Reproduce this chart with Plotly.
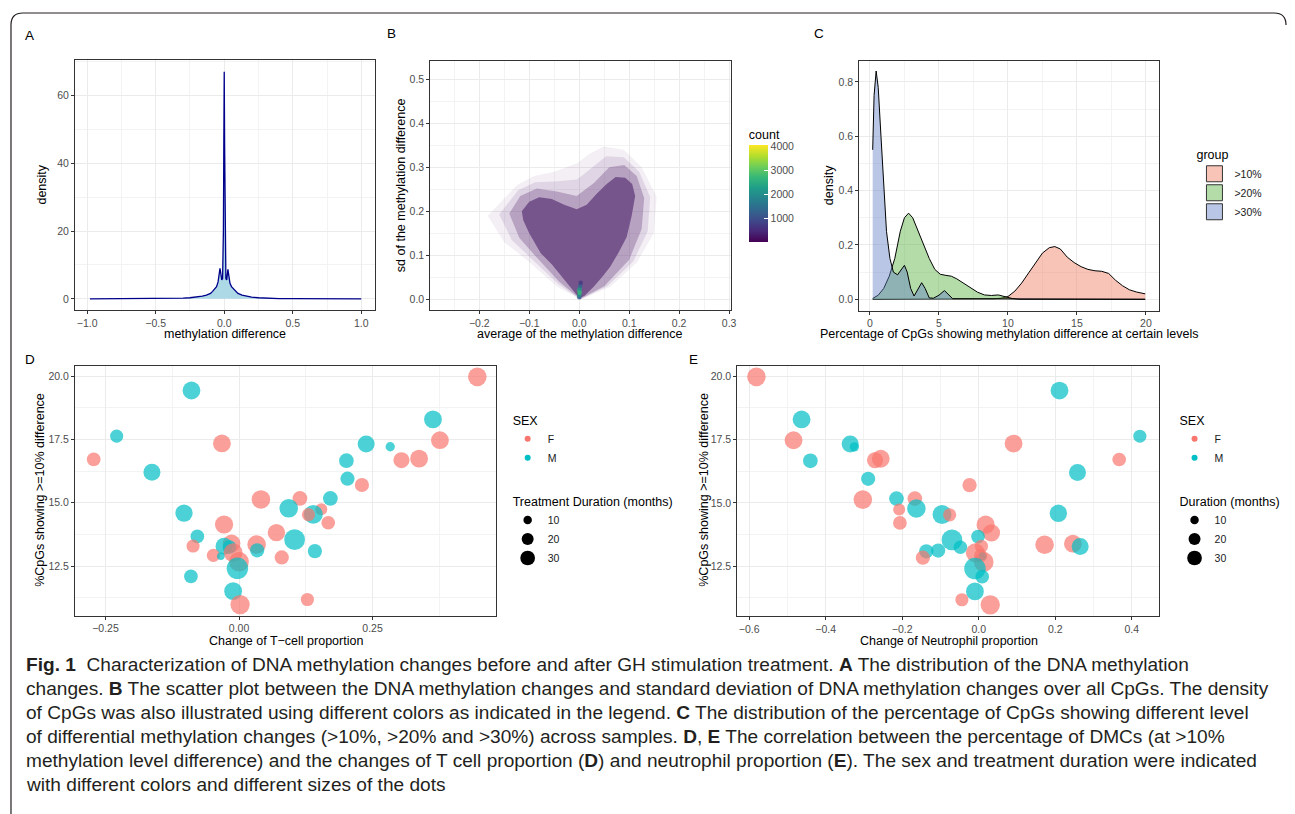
import plotly.graph_objects as go

# the page places the figure 8px from the top-left corner of the window
OFF = 8
W, H = 1295 - OFF, 814 - OFF

# ---------------- Panel A: density of methylation difference ----------------
a_x = [-0.98, -0.7, -0.5, -0.4, -0.3, -0.25, -0.2, -0.16, -0.13, -0.1, -0.085, -0.07,
       -0.056, -0.045, -0.036, -0.031, -0.025, -0.018, -0.012, -0.006, -0.003, 0.0,
       0.003, 0.006, 0.012, 0.018, 0.022, 0.027, 0.033, 0.042, 0.053, 0.07, 0.085,
       0.1, 0.13, 0.16, 0.2, 0.25, 0.3, 0.4, 0.5, 0.7, 1.0]
a_y = [0.0, 0.01, 0.03, 0.06, 0.2, 0.32, 0.5, 0.8, 1.1, 1.6, 2.2, 2.8,
       3.6, 5.0, 7.5, 9.0, 7.5, 5.6, 6.0, 20.0, 45.0, 67.0,
       45.0, 20.0, 6.0, 5.6, 7.5, 8.7, 7.0, 4.6, 3.6, 2.8, 2.2,
       1.6, 1.1, 0.8, 0.5, 0.32, 0.2, 0.06, 0.03, 0.01, 0.0]

# ---------------- Panel B: mean vs sd of methylation difference ----------------
halo_x = [0.003, -0.044, -0.103, -0.15, -0.183, -0.124, -0.09, -0.05, -0.003, 0.02,
          0.049, 0.089, 0.125, 0.155, 0.149, 0.115, 0.062, 0.003]
halo_y = [0.0, 0.029, 0.088, 0.13, 0.19, 0.26, 0.28, 0.29, 0.31, 0.33,
          0.347, 0.34, 0.3, 0.233, 0.15, 0.083, 0.029, 0.0]
halo2_x = [0.002, -0.042, -0.095, -0.135, -0.16, -0.122, -0.088, -0.048, -0.004, 0.025,
           0.054, 0.089, 0.12, 0.142, 0.137, 0.108, 0.056, 0.002]
halo2_y = [0.0, 0.035, 0.092, 0.135, 0.193, 0.248, 0.266, 0.268, 0.272, 0.298,
           0.325, 0.323, 0.29, 0.232, 0.155, 0.086, 0.03, 0.0]
mid_x = [0.002, -0.04, -0.085, -0.12, -0.14, -0.118, -0.085, -0.045, -0.005, 0.03,
         0.06, 0.09, 0.115, 0.13, 0.125, 0.1, 0.05, 0.002]
mid_y = [0.001, 0.04, 0.095, 0.14, 0.195, 0.235, 0.252, 0.245, 0.235, 0.265,
         0.3, 0.305, 0.28, 0.23, 0.16, 0.09, 0.03, 0.001]
core_x = [0.0, -0.03, -0.055, -0.077, -0.1, -0.112, -0.115, -0.1, -0.08, -0.055, -0.03,
          -0.005, 0.015, 0.035, 0.055, 0.073, 0.092, 0.106, 0.112, 0.105, 0.095, 0.078,
          0.062, 0.045, 0.029, 0.01, 0.0]
core_y = [0.003, 0.045, 0.08, 0.105, 0.15, 0.18, 0.2, 0.222, 0.232, 0.228, 0.215,
          0.205, 0.215, 0.24, 0.262, 0.278, 0.276, 0.262, 0.235, 0.19, 0.142, 0.105,
          0.074, 0.05, 0.029, 0.008, 0.003]
hot_x = [0.0, 0.0, 0.001, 0.0, 0.001, 0.002, 0.003]
hot_y = [0.005, 0.01, 0.015, 0.02, 0.025, 0.031, 0.038]
hot_count = [1200, 2100, 2700, 2600, 2000, 1300, 700]
count_ticks = [1000, 2000, 3000, 4000]

# ---------------- Panel C: densities of % CpGs per level ----------------
c_groups = [">10%", ">20%", ">30%"]
x10 = [0.2, 8.5, 9.0, 9.5, 10.0, 10.5, 11.0, 11.5, 12.0, 12.5, 13.0, 13.4, 13.8, 14.3,
       14.8, 15.3, 15.8, 16.3, 16.8, 17.3, 17.8, 18.3, 18.8, 19.3, 19.95]
y10 = [0.0, 0.0, 0.002, 0.004, 0.01, 0.03, 0.06, 0.097, 0.135, 0.17, 0.19, 0.194, 0.185,
       0.155, 0.135, 0.12, 0.11, 0.105, 0.103, 0.095, 0.07, 0.05, 0.035, 0.027, 0.02]
x20 = [0.2, 0.6, 1.0, 1.4, 1.8, 2.2, 2.5, 2.8, 3.1, 3.5, 3.9, 4.3, 4.7, 5.1, 5.5, 5.9,
       6.3, 6.8, 7.3, 7.8, 8.3, 8.8, 9.3, 9.8, 10.3, 10.8, 19.95]
y20 = [0.003, 0.015, 0.04, 0.085, 0.15, 0.25, 0.3, 0.317, 0.3, 0.25, 0.2, 0.15, 0.11,
       0.092, 0.088, 0.085, 0.075, 0.058, 0.04, 0.026, 0.016, 0.014, 0.016, 0.01, 0.003,
       0.0, 0.0]
x30 = [0.2, 0.3, 0.45, 0.6, 0.8, 1.0, 1.2, 1.45, 1.7, 2.0, 2.25, 2.5, 2.7, 2.95, 3.2,
       3.45, 3.75, 4.0, 4.3, 4.6, 5.0, 5.4, 5.7, 6.0, 19.95]
y30 = [0.55, 0.75, 0.84, 0.78, 0.6, 0.4, 0.25, 0.15, 0.1, 0.09, 0.11, 0.125, 0.1, 0.04,
       0.012, 0.035, 0.061, 0.04, 0.005, 0.004, 0.015, 0.032, 0.015, 0.002, 0.0]

# ---------------- Panels D, E: per-sample values ----------------
pct_dmc = [19.97, 19.43, 18.29, 17.63, 17.34, 17.47, 17.32, 17.21, 16.71, 16.68, 16.74,
           16.66, 16.20, 15.95, 15.70, 15.13, 15.17, 15.17, 14.59, 14.78, 14.74, 14.54,
           14.53, 14.21, 14.14, 13.82, 13.67, 13.54, 13.29, 13.39, 13.28, 13.25, 13.35,
           13.12, 13.09, 13.03, 12.92, 12.89, 12.84, 12.67, 12.41, 12.09, 11.51, 11.18,
           10.98]
tcell_change = [0.446, -0.089, 0.363, -0.229, -0.032, 0.376, 0.238, 0.283, -0.272, 0.304,
                0.337, 0.201, -0.163, 0.203, 0.230, 0.041, 0.114, 0.171, -0.103, 0.093,
                0.154, 0.139, 0.130, 0.167, -0.028, 0.070, -0.078, 0.104, -0.086, -0.014,
                -0.028, -0.018, 0.033, 0.034, 0.142, -0.011, -0.048, -0.034, 0.080, 0.000,
                -0.003, -0.090, -0.011, 0.128, 0.002]
neut_change = [-0.581, 0.211, -0.463, 0.421, 0.091, -0.484, -0.336, -0.325, 0.367, -0.271,
               -0.256, -0.440, 0.258, -0.289, -0.024, -0.303, -0.167, -0.215, 0.208, -0.163,
               -0.208, -0.096, -0.076, -0.206, 0.018, 0.033, -0.002, -0.070, 0.007, 0.246,
               0.265, -0.048, 0.172, -0.106, -0.137, -0.009, 0.005, 0.010, -0.146, 0.013,
               -0.010, 0.009, -0.010, -0.044, 0.030]
sex = ["F", "M", "M", "M", "F", "F", "M", "M", "F", "F", "F", "M", "M", "M", "F", "F", "F",
       "M", "M", "M", "F", "M", "F", "F", "F", "F", "M", "M", "F", "F", "M", "M", "F", "M",
       "M", "F", "F", "M", "F", "F", "M", "M", "M", "F", "F"]
duration = [24, 22, 22, 12, 22, 22, 20, 6, 13, 18, 22, 15, 20, 14, 14, 24, 15, 15, 21, 24,
            10, 25, 12, 13, 23, 21, 13, 30, 12, 22, 20, 13, 24, 14, 14, 25, 12, 4, 14, 27,
            32, 13, 22, 12, 26]
duration_legend = [10, 20, 30]

# ---------------- styling ----------------
FONT = "Liberation Sans, Arial, Helvetica, sans-serif"
SEX_COL = {"F": "#F8766D", "M": "#00BFC4"}
FILL_C = {">10%": "rgba(239,118,90,0.43)", ">20%": "rgba(81,174,53,0.43)",
          ">30%": "rgba(95,122,197,0.43)"}
SIZEREF = 20 / 144.0
TICKFONT = dict(size=10.5, color="#4D4D4D", family=FONT)
TITLEFONT = dict(size=12.5, color="#000000", family=FONT)


def fx(p):
    return (p - OFF) / W


def fy(p):
    return 1 - (p - OFF) / H


fig = go.Figure()

# A
fig.add_trace(go.Scatter(x=a_x, y=a_y, mode="lines", fill="tozeroy", fillcolor="#ADD8E6",
                         line=dict(color="#00008B", width=1.3), showlegend=False,
                         xaxis="x", yaxis="y"))

# B
for xs, ys, col in [(halo_x, halo_y, "rgba(120,80,140,0.09)"),
                    (halo2_x, halo2_y, "rgba(120,80,140,0.16)"),
                    (mid_x, mid_y, "rgba(120,80,140,0.38)"),
                    (core_x, core_y, "rgb(118,84,140)")]:
    fig.add_trace(go.Scatter(x=xs, y=ys, mode="lines", fill="toself", fillcolor=col,
                             line=dict(width=0, color=col), showlegend=False,
                             hoverinfo="skip", xaxis="x2", yaxis="y2"))
fig.add_trace(go.Scatter(
    x=hot_x, y=hot_y, mode="markers", showlegend=False, xaxis="x2", yaxis="y2",
    marker=dict(color=hot_count, colorscale="Viridis", cmin=0, cmax=4040, size=4.5,
                opacity=0.8, showscale=True,
                colorbar=dict(x=fx(752.3), xanchor="left", y=fy(242.3), yanchor="bottom",
                              len=(242.3 - 126) / H, lenmode="fraction", thickness=19.4,
                              thicknessmode="pixels", outlinewidth=0, xpad=0, ypad=0,
                              tickvals=count_ticks, ticks="inside", ticklen=4,
                              tickcolor="white", tickfont=TICKFONT,
                              title=dict(text="count", side="top", font=TITLEFONT)))))

# C
for name, xs, ys in [(">10%", x10, y10), (">20%", x20, y20), (">30%", x30, y30)]:
    fig.add_trace(go.Scatter(x=xs, y=ys, mode="lines", fill="tozeroy", fillcolor=FILL_C[name],
                             line=dict(color="black", width=1), showlegend=False,
                             xaxis="x3", yaxis="y3"))
for name in c_groups:
    fig.add_trace(go.Scatter(x=[None], y=[None], mode="markers", name=name,
                             marker=dict(symbol="square", size=16, color=FILL_C[name],
                                         line=dict(color="#333333", width=1)),
                             legend="legend5", xaxis="x3", yaxis="y3"))

# D and E
cols = [SEX_COL[s] for s in sex]
for xs, xa, ya in [(tcell_change, "x4", "y4"), (neut_change, "x5", "y5")]:
    fig.add_trace(go.Scatter(x=xs, y=pct_dmc, mode="markers", showlegend=False,
                             marker=dict(color=cols, size=duration, sizemode="area",
                                         sizeref=SIZEREF, sizemin=3, line=dict(width=0)),
                             xaxis=xa, yaxis=ya))

for leg, xa, ya, dtitle in [("legend", "x4", "y4", "Treatment Duration (months)"),
                            ("legend3", "x5", "y5", "Duration (months)")]:
    for s in ["F", "M"]:
        fig.add_trace(go.Scatter(x=[None], y=[None], mode="markers", name=s,
                                 marker=dict(color=SEX_COL[s], size=6),
                                 legendgroup="sex" + leg,
                                 legendgrouptitle=dict(text="SEX", font=TITLEFONT),
                                 legend=leg, xaxis=xa, yaxis=ya))
    for v in duration_legend:
        fig.add_trace(go.Scatter(x=[None], y=[None], mode="markers", name=str(v),
                                 marker=dict(color="black", size=(v / SIZEREF) ** 0.5),
                                 legendgroup="dur" + leg,
                                 legendgrouptitle=dict(text=dtitle, font=TITLEFONT),
                                 legend=leg, xaxis=xa, yaxis=ya))


def axis(dom, rng, dtick, tick0, minor_dtick, fmt, anchor, horizontal):
    d = (fx(dom[0]), fx(dom[1])) if horizontal else (fy(dom[1]), fy(dom[0]))
    return dict(domain=list(d), range=rng, anchor=anchor, autorange=False,
                dtick=dtick, tick0=tick0, tickformat=fmt,
                showgrid=True, gridcolor="#EBEBEB", gridwidth=1,
                minor=dict(dtick=minor_dtick, tick0=tick0, showgrid=True,
                           gridcolor="#F3F3F3", gridwidth=0.6),
                showline=True, mirror=True, linecolor="#333333", linewidth=1,
                ticks="outside", ticklen=3, tickcolor="#333333", tickwidth=1,
                tickfont=TICKFONT, zeroline=False, fixedrange=True)


layout = dict(
    width=W, height=H, margin=dict(l=0, r=0, t=0, b=0), autosize=False,
    paper_bgcolor="white", plot_bgcolor="white", font=dict(family=FONT),
    xaxis=axis((75.3, 376.7), [-1.089, 1.1], 0.5, -1, 0.25, ".1f", "y", True),
    yaxis=axis((60, 310), [-3.3, 70.5], 20, 0, 10, "d", "x", False),
    xaxis2=axis((432.3, 734), [-0.298, 0.303], 0.1, 0, 0.05, ".1f", "y2", True),
    yaxis2=axis((60.7, 310), [-0.024, 0.542], 0.1, 0, 0.05, ".1f", "x2", False),
    xaxis3=axis((863.3, 1164.7), [-0.77, 20.97], 5, 0, 2.5, "d", "y3", True),
    yaxis3=axis((60.7, 310.7), [-0.042, 0.878], 0.2, 0, 0.1, ".1f", "x3", False),
    xaxis4=axis((75.3, 498.3), [-0.307, 0.481], 0.25, 0, 0.125, ".2f", "y4", True),
    yaxis4=axis((365.7, 615.7), [10.54, 20.41], 2.5, 12.5, 1.25, ".1f", "x4", False),
    xaxis5=axis((740.7, 1164), [-0.631, 0.470], 0.2, 0, 0.1, ".1f", "y5", True),
    yaxis5=axis((365.7, 616), [10.54, 20.41], 2.5, 12.5, 1.25, ".1f", "x5", False),
)
leg_common = dict(bgcolor="rgba(0,0,0,0)", borderwidth=0, xanchor="left", yanchor="top",
                  font=dict(size=10.5, color="#1A1A1A", family=FONT), itemwidth=30,
                  traceorder="grouped", grouptitlefont=TITLEFONT, tracegroupgap=24,
                  itemclick=False, itemdoubleclick=False)
layout["legend"] = dict(leg_common, x=fx(510), y=fy(405))
layout["legend3"] = dict(leg_common, x=fx(1180), y=fy(405))
layout["legend5"] = dict(leg_common, x=fx(1200), y=fy(143),
                         title=dict(text="group", font=TITLEFONT), traceorder="normal")
fig.update_layout(**layout)

ann = []
for t, x, y in [("A", 30, 35), ("B", 393, 34), ("C", 823, 34), ("D", 30, 359), ("E", 697, 359)]:
    ann.append(dict(text=t, x=fx(x), y=fy(y), xref="paper", yref="paper", showarrow=False,
                    xanchor="center", yanchor="middle", font=dict(size=13.5, color="black",
                                                                  family=FONT)))
for t, x, y, ang in [
    ("methylation difference", 226, 334, 0), ("density", 41.7, 185, -90),
    ("average of the methylation difference", 583, 334, 0),
    ("sd of the methylation difference", 403, 185, -90),
    ("Percentage of CpGs showing methylation difference at certain levels", 1013.5, 334, 0),
    ("density", 833, 185, -90),
    ("Change of T\u2212cell proportion", 287, 641, 0),
    ("%CpGs showing >=10% difference", 40, 490, -90),
    ("Change of Neutrophil proportion", 953, 641, 0),
    ("%CpGs showing >=10% difference", 707, 490, -90)]:
    ann.append(dict(text=t, x=fx(x), y=fy(y), xref="paper", yref="paper", showarrow=False,
                    xanchor="center", yanchor="middle", textangle=ang, font=TITLEFONT))

caption = [
    "<b>Fig. 1</b>  Characterization of DNA methylation changes before and after GH stimulation treatment. <b>A</b> The distribution of the DNA methylation",
    "changes. <b>B</b> The scatter plot between the DNA methylation changes and standard deviation of DNA methylation changes over all CpGs. The density",
    "of CpGs was also illustrated using different colors as indicated in the legend. <b>C</b> The distribution of the percentage of CpGs showing different level",
    "of differential methylation changes (>10%, >20% and >30%) across samples. <b>D</b>, <b>E</b> The correlation between the percentage of DMCs (at >10%",
    "methylation level difference) and the changes of T cell proportion (<b>D</b>) and neutrophil proportion (<b>E</b>). The sex and treatment duration were indicated",
    "with different colors and different sizes of the dots",
]
for i, line in enumerate(caption):
    ann.append(dict(text=line, x=fx(24), y=fy(664 + 24 * i), xref="paper", yref="paper",
                    showarrow=False, xanchor="left", yanchor="middle",
                    font=dict(size=19.1, color="#231F20", family=FONT)))
fig.update_layout(annotations=ann)

border = (f"M {fx(11)},{fy(820)} L {fx(11)},{fy(25)} Q {fx(11)},{fy(13)} {fx(23)},{fy(13)} "
          f"L {fx(1280)},{fy(13)} Q {fx(1292)},{fy(13)} {fx(1292)},{fy(25)}")
fig.update_layout(shapes=[dict(type="path", path=border, xref="paper", yref="paper",
                               line=dict(color="#231F20", width=1.2))])

fig.write_html("out.html")
